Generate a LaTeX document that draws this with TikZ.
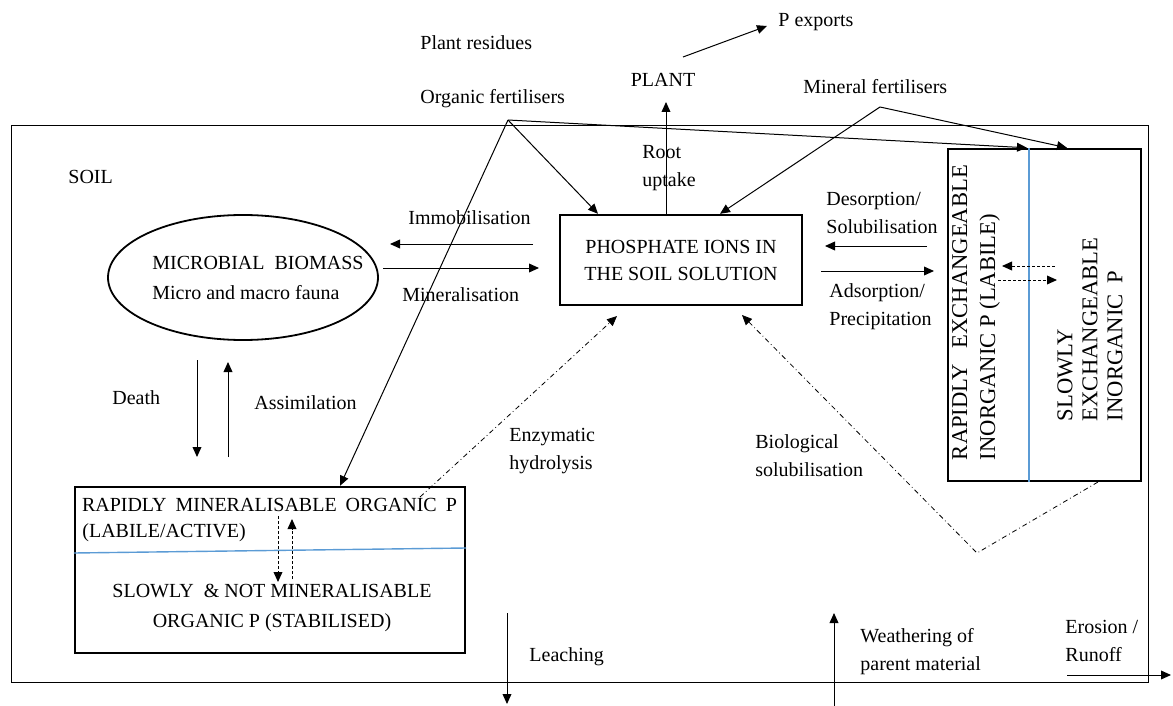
\documentclass[tikz,border=0pt]{standalone}
\usepackage{fontspec}
\setmainfont{Liberation Serif}
\usepackage{tikz}
\usetikzlibrary{shapes.geometric, arrows.meta}
\definecolor{divblue}{RGB}{91,155,213}

\begin{document}
\begin{tikzpicture}[
  x=0.5pt, y=-0.5pt,
  frame/.style={rectangle, draw=black, line width=0.5pt, inner sep=0pt,
              minimum width=568.5pt, minimum height=278pt},
  box/.style={rectangle, draw=black, line width=1.2pt, inner sep=0pt},
  bio/.style={ellipse, draw=black, line width=0.9pt, inner sep=0pt,
              minimum width=135pt, minimum height=62.5pt},
  lbl/.style={inner sep=0pt, anchor=west, align=left,
              font=\fontsize{10}{14}\selectfont},
  txt/.style={inner sep=0pt, align=center, font=\fontsize{10}{14}\selectfont},
  arr/.style={-{Triangle[length=5pt, width=4.4pt]}, line width=0.5pt},
  darr/.style={-{Triangle[length=5pt, width=4.4pt]}, line width=0.5pt,
               dash pattern=on 1.5pt off 1pt},
  ddarr/.style={-{Triangle[length=5pt, width=4.4pt]}, line width=0.4pt,
               dash pattern=on 2.5pt off 1.5pt on 0.4pt off 1.5pt},
  sep/.style={draw=divblue, line width=0.7pt}
]
\useasboundingbox (0,0) rectangle (1173,706);

\node[frame] (soil) at (579.5,404) {};
\node[lbl] (soillbl) at (68,177) {SOIL};

\node[bio] (mb) at (243,277.5) {};
\node[lbl, font=\fontsize{10}{15}\selectfont] (mbtxt) at (152,278)
  {MICROBIAL\ \ BIOMASS\\Micro and macro fauna};

\node[box, minimum width=121pt, minimum height=45pt, align=center,
      font=\fontsize{10}{13.5}\selectfont] (phos) at (681,260)
  {PHOSPHATE IONS IN\\THE SOIL SOLUTION};

\node[box, minimum width=96.5pt, minimum height=166pt] (inorg) at (1044.5,315) {};
\draw[sep] (1029,0 |- inorg.north) -- (1029,0 |- inorg.south);
\node[rotate=90, inner sep=0pt, align=left, font=\fontsize{11.3}{14}\selectfont]
  (rapin) at (976,312.5)
  {\makebox[147.5pt][s]{RAPIDLY EXCHANGEABLE}\\INORGANIC P (LABILE)};
\node[rotate=90, inner sep=0pt, align=left, font=\fontsize{11.3}{12.5}\selectfont]
  (slowin) at (1090,329.5) {SLOWLY\\EXCHANGEABLE\\INORGANIC\ \ P};

\node[box, minimum width=195pt, minimum height=83pt] (orgp) at (270,570) {};
\draw[sep] (orgp.west |- 0,553) -- (orgp.east |- 0,548);
\node[txt] (rapid) at (269.5,505)
  {\makebox[187.5pt][s]{RAPIDLY MINERALISABLE ORGANIC P}};
\node[lbl] (labile) at (82,533) {(LABILE/ACTIVE)};
\node[txt, font=\fontsize{10}{15}\selectfont] (stab) at (272,608)
  {SLOWLY\ \ \&\ NOT MINERALISABLE\\ORGANIC P (STABILISED)};

\node[lbl] (pres)  at (420,43) {Plant residues};
\node[lbl] (ofert) at (420,99) {Organic fertilisers};
\node[txt] (plant) at (663,80) {PLANT};
\node[lbl] (pexp)  at (778,22) {P exports};
\node[lbl] (mfert) at (803,87) {Mineral fertilisers};
\node[lbl] (root)  at (642,168) {Root\\uptake};

\node[lbl] (immo) at (408,218) {Immobilisation};
\node[lbl] (mine) at (402,295) {Mineralisation};
\node[lbl] (deso) at (826,213) {Desorption/\\Solubilisation};
\node[lbl] (adso) at (829,307) {Adsorption/\\Precipitation};
\node[lbl] (death) at (112,398) {Death};
\node[lbl] (assim) at (254,403) {Assimilation};
\node[lbl] (enzy) at (509,451) {Enzymatic\\hydrolysis};
\node[lbl] (biol) at (755,456) {Biological\\solubilisation};
\node[lbl] (leach) at (529,657) {Leaching};
\node[lbl] (weath) at (860,652) {Weathering\ of\\parent material};
\node[lbl] (eros) at (1065,641) {Erosion /\\Runoff};

\coordinate (orgf)   at (508,120);
\coordinate (minf)   at (880,107);
\coordinate (plantb) at (666,102);
\coordinate (pexpa)  at (683,57);
\coordinate (pexpb)  at (767,26);
\coordinate (immoa)  at (533,244);
\coordinate (immob)  at (390,244);
\coordinate (minea)  at (383,268);
\coordinate (mineb)  at (539,268);
\coordinate (desoa)  at (927,246);
\coordinate (desob)  at (825,246);
\coordinate (adsoa)  at (821,271);
\coordinate (adsob)  at (934,271);
\coordinate (enzya)  at (420,497);
\coordinate (enzyb)  at (617,316);
\coordinate (biola)  at (1098,482);
\coordinate (biolv)  at (977,553);
\coordinate (biolb)  at (742,315);
\coordinate (leacha) at (507,613);
\coordinate (leachb) at (507,704);
\coordinate (weatha) at (834,706);
\coordinate (weathb) at (834,613);
\coordinate (erosa)  at (1067,675);
\coordinate (erosb)  at (1171,675);

\draw[arr] (pexpa) -- (pexpb);
\draw[arr] (666,0 |- phos.north) -- (plantb);

\draw[arr] (orgf) -- (340,0 |- orgp.north);
\draw[arr] (orgf) -- (598,0 |- phos.north);
\draw[arr] (orgf) -- (1027,0 |- inorg.north);
\draw[arr] (minf) -- (720,0 |- phos.north);
\draw[arr] (minf) -- (1067,0 |- inorg.north);

\draw[arr] (immoa) -- (immob);
\draw[arr] (minea) -- (mineb);
\draw[arr] (desoa) -- (desob);
\draw[arr] (adsoa) -- (adsob);

\draw[arr] (197,360) -- (197,457);
\draw[arr] (228,457) -- (228,362);

\draw[darr] (1055,266) -- (1002,266);
\draw[darr] (998,280) -- (1057,280);
\draw[darr] (278,516) -- (278,582);
\draw[darr] (292,579) -- (292,519);

\draw[ddarr] (enzya) -- (enzyb);
\draw[ddarr] (biola) -- (biolv) -- (biolb);

\draw[arr] (leacha) -- (leachb);
\draw[arr] (weatha) -- (weathb);
\draw[arr] (erosa) -- (erosb);

\end{tikzpicture}
\end{document}
